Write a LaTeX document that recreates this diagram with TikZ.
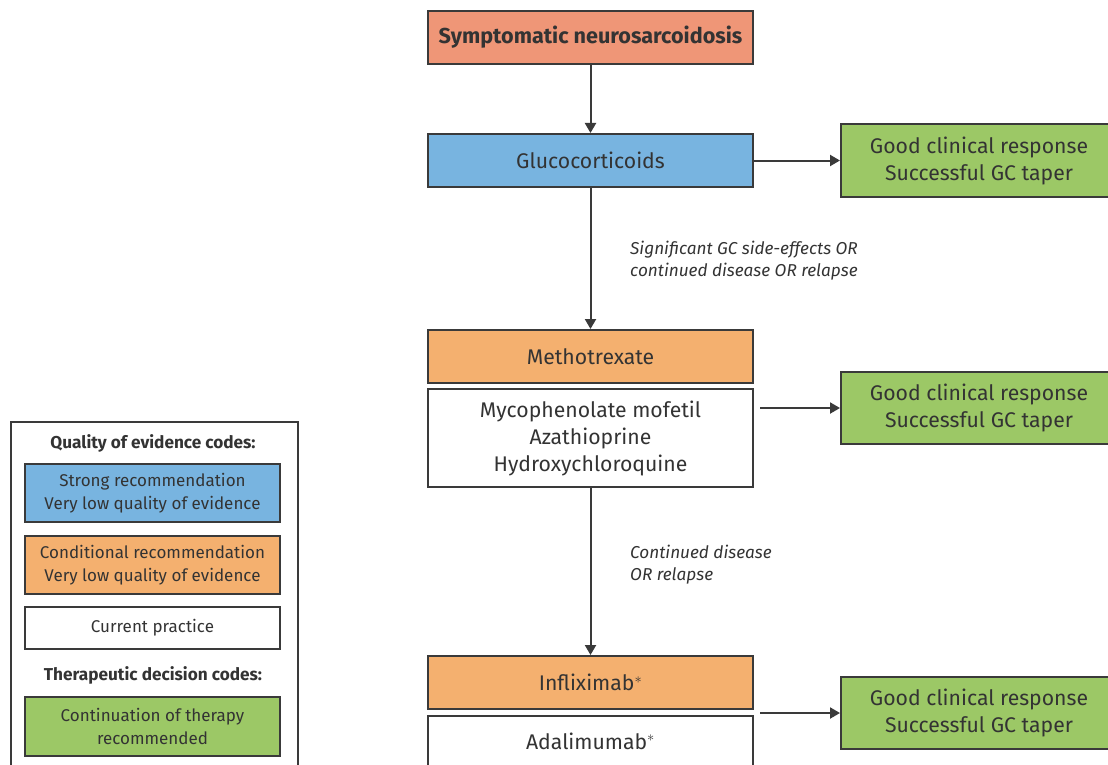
\documentclass[tikz,border=0pt]{standalone}
\usepackage{fontspec}
\setmainfont{Fira Sans}
\usetikzlibrary{arrows.meta,positioning}
\definecolor{txt}{HTML}{333333}
\definecolor{edge}{HTML}{3A3A3A}
\definecolor{salmon}{HTML}{EF9677}
\definecolor{gcblue}{HTML}{78B4E0}
\definecolor{condorange}{HTML}{F4B06F}
\definecolor{goodgreen}{HTML}{9CC866}
\tikzset{
  box/.style={draw=edge, line width=2pt, rectangle, inner sep=2pt, align=center,
    text=txt, font=\fontsize{21.2}{27}\selectfont},
  stepbox/.style={box, minimum width=325pt, minimum height=53pt},
  goodbox/.style={box, fill=goodgreen, minimum width=276pt, minimum height=72pt},
  legbox/.style={draw=edge, line width=1.8pt, rectangle, align=center, text=txt,
    minimum width=255pt, font=\fontsize{17}{23}\selectfont},
  legtitle/.style={text=txt, font=\fontsize{17.2}{20}\selectfont\bfseries},
  cond/.style={text=txt, align=left, anchor=west, inner sep=0pt,
    font=\fontsize{17.2}{22}\selectfont\itshape},
  flow/.style={draw=edge, line width=2pt, -{Triangle[length=10pt,width=11pt]}}
}
\begin{document}
\begin{tikzpicture}[x=1pt,y=-1pt]
\clip (0,0) rectangle (1108,765);
\fill[white] (0,0) rectangle (1108,765);

% main treatment ladder
\node[stepbox, fill=salmon, font=\fontsize{21.6}{27}\selectfont\bfseries] (sym) at (590.5,37.5) {Symptomatic neurosarcoidosis};
\node[stepbox, fill=gcblue] (gc) at (590.5,160.5) {Glucocorticoids};
\node[goodbox, anchor=west] (good1) at (840,160.5) {Good clinical response\\Successful GC taper};

\node[stepbox, fill=condorange] (mtx) at (590.5,356.5) {Methotrexate};
\node[stepbox, fill=white, minimum height=98pt] (alt) at (590.5,438) {Mycophenolate mofetil\\Azathioprine\\Hydroxychloroquine};
\node[goodbox, anchor=west] (good2) at (840,408) {Good clinical response\\Successful GC taper};

\node[stepbox, fill=condorange] (ifx) at (590.5,682.5) {Infliximab$^{\ast}$};
\node[stepbox, fill=white, minimum height=90pt, anchor=north] (ada) at (590.5,715) {};
\node[text=txt, font=\fontsize{21.2}{27}\selectfont] (adatxt) at (590.5,741) {Adalimumab$^{\ast}$};
\node[goodbox, anchor=west] (good3) at (840,713) {Good clinical response\\Successful GC taper};

% decision conditions
\node[cond] (c1) at (630,261) {Significant GC side-effects OR\\continued disease OR relapse};
\node[cond] (c2) at (630,565) {Continued disease\\OR relapse};

% connectors
\coordinate (s2) at (760,408);
\coordinate (s3) at (760,713);
\draw[flow] (sym) -- (gc);
\draw[flow] (gc) -- (good1);
\draw[flow] (gc) -- (mtx);
\draw[flow] (s2) -- (good2);
\draw[flow] (alt) -- (ifx);
\draw[flow] (s3) -- (good3);

% legend
\node[draw=edge, line width=1.8pt, rectangle, minimum width=287pt, minimum height=400pt, anchor=north west] (legend) at (10,421) {};
\node[legtitle] (lt1) at (153,443) {Quality of evidence codes:};
\node[legbox, fill=gcblue, minimum height=58pt] (lblue) at (152.5,493) {Strong recommendation\\Very low quality of evidence};
\node[legbox, fill=condorange, minimum height=58pt] (lorange) at (152.5,565) {Conditional recommendation\\Very low quality of evidence};
\node[legbox, fill=white, minimum height=42pt] (lwhite) at (152.5,628) {Current practice};
\node[legtitle] (lt2) at (153,675) {Therapeutic decision codes:};
\node[legbox, fill=goodgreen, minimum height=59pt] (lgreen) at (152.5,726.5) {Continuation of therapy\\recommended};
\end{tikzpicture}
\end{document}
